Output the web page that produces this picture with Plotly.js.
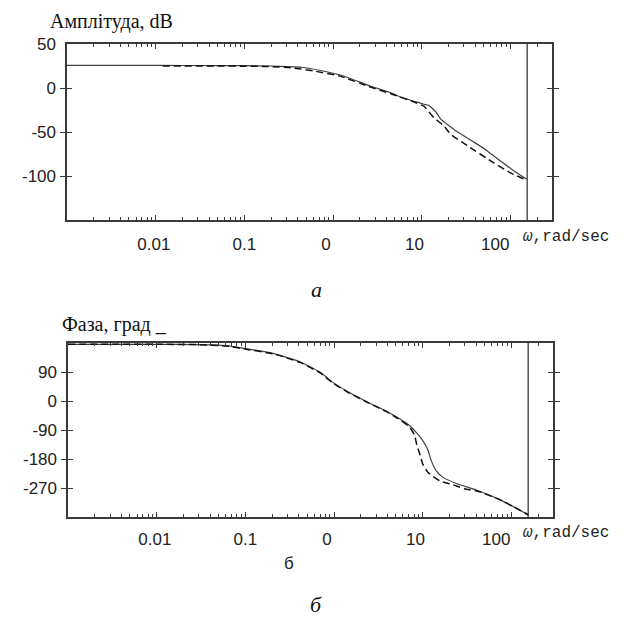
<!DOCTYPE html>
<html>
<head>
<meta charset="utf-8">
<script src="https://cdn.plot.ly/plotly-3.0.1.min.js"></script>
<style>
  html, body { margin: 0; padding: 0; background: #fff; }
  #chart { width: 624px; height: 624px; }
</style>
</head>
<body>
<div id="chart"></div>
<script>
// ---------- data ----------
// Amplitude (dB), solid curve
const ampSolidOmega = [0.001, 0.01, 0.05, 0.1, 0.2, 0.3, 0.44, 0.73, 1.34, 2.67, 4.5, 5.8, 8.2, 10.6, 12, 14.4, 16.3, 25, 38.9, 55, 77.5, 109, 155];
const ampSolidDb    = [25.6, 25.6, 25.5, 25.4, 25, 24.3, 23.6, 19.9, 13.4, 2, -5.5, -10.5, -15, -18.5, -19.5, -27, -35, -49.5, -61.5, -71.5, -83, -94, -104];
// Amplitude (dB), dashed curve
const ampDashOmega = [0.012, 0.05, 0.1, 0.2, 0.34, 0.6, 1.2, 2.5, 4.5, 8, 10.6, 13.8, 17.8, 21.2, 32.7, 65, 100, 155];
const ampDashDb    = [25, 25, 24.8, 24.3, 23, 19.5, 13.5, 2, -6.5, -15.5, -20.7, -34, -43, -52.5, -65.5, -85, -96.4, -105];
// Phase (deg), solid curve
const phSolidOmega = [0.001, 0.01, 0.03, 0.06, 0.105, 0.21, 0.42, 0.7, 0.98, 1.39, 2.5, 3.9, 5.1, 7.1, 8.5, 10, 11.5, 12.5, 14.2, 17, 24, 41, 74, 104, 155];
const phSolidDeg   = [176, 176, 175, 172, 162, 147, 121, 89, 57, 31, -6, -32, -50, -76, -98, -122, -153, -185, -216, -237, -256, -277, -306, -327, -353];
// Phase (deg), dashed curve
const phDashOmega = [0.001, 0.01, 0.03, 0.06, 0.105, 0.21, 0.42, 0.7, 0.98, 1.39, 2.5, 3.9, 5.1, 7.1, 8.1, 8.6, 9.4, 10, 11.5, 15.6, 21.9, 31, 41, 74, 104, 155];
const phDashDeg   = [176, 176, 175, 171, 160, 146, 119, 87, 55, 29, -7, -33, -52, -80, -106, -137, -169, -195, -222, -248, -260, -274, -279, -306, -327, -353];

// tick labels
const xTickText = ["0.01", "0.1", "0", "10", "100"];
const xDecades = [0.001, 0.01, 0.1, 1, 10, 100];
const ampTickVals = [50, 0, -50, -100];
const ampTickText = ["50", "0", "-50", "-100"];
const phTickVals = [90, 0, -90, -180, -270];
const phTickText = ["90", "0", "-90", "-180", "-270"];

// text
const ampTitle = "Амплітуда, dB";
const phTitle = "Фаза, град _";
const omegaLabel = "<i>ω</i>,rad/sec";
const captionA = "а";
const captionB = "б";
const subLabelB = "б";

// ---------- layout helpers ----------
const W = 624, H = 624;
const px = v => v / W;
const py = v => 1 - v / H;

const xRange = [-3, 2.47];
const ampRange = [-150, 50];
const phRange = [-360, 180];

// minor log ticks 2..9 per decade
const minorVals = [];
xDecades.forEach(d => { for (let k = 2; k <= 9; k++) minorVals.push(d * k); });
// label positions (labels sit a little left of their decades in the reference)
const labelShift = [-0.02, 0, -0.08, -0.08, -0.17];
const labelVals = [0.01, 0.1, 1, 10, 100].map((d, i) => d * Math.pow(10, labelShift[i]));

const axisColor = '#3a3a3a';
const tickFont = { family: 'Liberation Sans, Arial, sans-serif', size: 17, color: '#222' };

function tickXAxis(domain, anchor) {
  return {
    domain: domain, anchor: anchor, type: 'log', range: xRange,
    showline: true, linecolor: axisColor, linewidth: 1.6, mirror: 'allticks',
    ticks: 'inside', tickvals: xDecades, ticklen: 5, tickcolor: axisColor, tickwidth: 1,
    showticklabels: false, showgrid: false, zeroline: false,
    minor: { tickvals: minorVals, ticks: 'inside', ticklen: 3, tickcolor: axisColor, tickwidth: 1, showgrid: false }
  };
}
function labelXAxis(domain, anchor, overlay, standoff) {
  return {
    domain: domain, anchor: anchor, overlaying: overlay, type: 'log', range: xRange,
    showline: false, ticks: '', tickmode: 'array', tickvals: labelVals, ticktext: xTickText,
    tickfont: tickFont, ticklabelstandoff: standoff, showgrid: false, zeroline: false
  };
}
function yAxis(domain, anchor, range, vals, text) {
  return {
    domain: domain, anchor: anchor, range: range,
    showline: true, linecolor: axisColor, linewidth: 1.6, mirror: 'allticks',
    ticks: 'inside', ticklen: 5, tickcolor: axisColor, tickwidth: 1,
    tickmode: 'array', tickvals: vals, ticktext: text, tickfont: tickFont,
    ticklabelstandoff: 6, showgrid: false, zeroline: false
  };
}

const topX = [px(67), px(552)], topY = [py(220), py(44)];
const botX = [px(68), px(553)], botY = [py(517), py(343)];

const solidLine = { color: '#404040', width: 1.2, shape: 'spline', smoothing: 0.4 };
const dashLine = { color: '#111', width: 1.5, dash: '7px,4px', shape: 'spline', smoothing: 0.4 };
const endOmegaA = ampSolidOmega[ampSolidOmega.length - 1];
const endOmegaP = phSolidOmega[phSolidOmega.length - 1];

const data = [
  { x: ampSolidOmega, y: ampSolidDb, xaxis: 'x', yaxis: 'y', mode: 'lines', line: solidLine, hoverinfo: 'skip' },
  { x: ampDashOmega, y: ampDashDb, xaxis: 'x3', yaxis: 'y', mode: 'lines', line: dashLine, hoverinfo: 'skip' },
  { x: [endOmegaA, endOmegaA], y: ampRange, xaxis: 'x', yaxis: 'y', mode: 'lines', line: { color: '#555', width: 1.5 }, hoverinfo: 'skip' },
  { x: phSolidOmega, y: phSolidDeg, xaxis: 'x2', yaxis: 'y2', mode: 'lines', line: solidLine, hoverinfo: 'skip' },
  { x: phDashOmega, y: phDashDeg, xaxis: 'x4', yaxis: 'y2', mode: 'lines', line: dashLine, hoverinfo: 'skip' },
  { x: [endOmegaP, endOmegaP], y: phRange, xaxis: 'x2', yaxis: 'y2', mode: 'lines', line: { color: '#555', width: 1.5 }, hoverinfo: 'skip' }
];

const serif = 'Liberation Serif, Times New Roman, serif';
const layout = {
  width: W, height: H, autosize: false,
  margin: { l: 0, r: 0, t: 0, b: 0, pad: 0 },
  paper_bgcolor: '#fff', plot_bgcolor: '#fff',
  showlegend: false,
  xaxis: tickXAxis(topX, 'y'),
  yaxis: yAxis(topY, 'x', ampRange, ampTickVals, ampTickText),
  xaxis3: labelXAxis(topX, 'y', 'x', 12),
  xaxis2: tickXAxis(botX, 'y2'),
  yaxis2: yAxis(botY, 'x2', phRange, phTickVals, phTickText),
  xaxis4: labelXAxis(botX, 'y2', 'x2', 10),
  annotations: [
    { text: ampTitle, xref: 'paper', yref: 'paper', x: px(48), y: py(22), xanchor: 'left', yanchor: 'middle', showarrow: false, font: { family: serif, size: 20, color: '#111' } },
    { text: phTitle, xref: 'paper', yref: 'paper', x: px(60), y: py(324), xanchor: 'left', yanchor: 'middle', showarrow: false, font: { family: serif, size: 20, color: '#111' } },
    { text: omegaLabel, xref: 'paper', yref: 'paper', x: px(521), y: py(237), xanchor: 'left', yanchor: 'middle', showarrow: false, font: { family: 'Liberation Mono, Courier New, monospace', size: 16, color: '#222' } },
    { text: omegaLabel, xref: 'paper', yref: 'paper', x: px(521), y: py(533), xanchor: 'left', yanchor: 'middle', showarrow: false, font: { family: 'Liberation Mono, Courier New, monospace', size: 16, color: '#222' } },
    { text: '<i>' + captionA + '</i>', xref: 'paper', yref: 'paper', x: px(316), y: py(289), xanchor: 'center', yanchor: 'middle', showarrow: false, font: { family: serif, size: 22, color: '#111' } },
    { text: subLabelB, xref: 'paper', yref: 'paper', x: px(289), y: py(563), xanchor: 'center', yanchor: 'middle', showarrow: false, font: { family: 'Liberation Sans, Arial, sans-serif', size: 17, color: '#222' } },
    { text: '<i>' + captionB + '</i>', xref: 'paper', yref: 'paper', x: px(316), y: py(604), xanchor: 'center', yanchor: 'middle', showarrow: false, font: { family: serif, size: 22, color: '#111' } }
  ]
};

Plotly.newPlot('chart', data, layout, { staticPlot: true, displayModeBar: false });
</script>
</body>
</html>
